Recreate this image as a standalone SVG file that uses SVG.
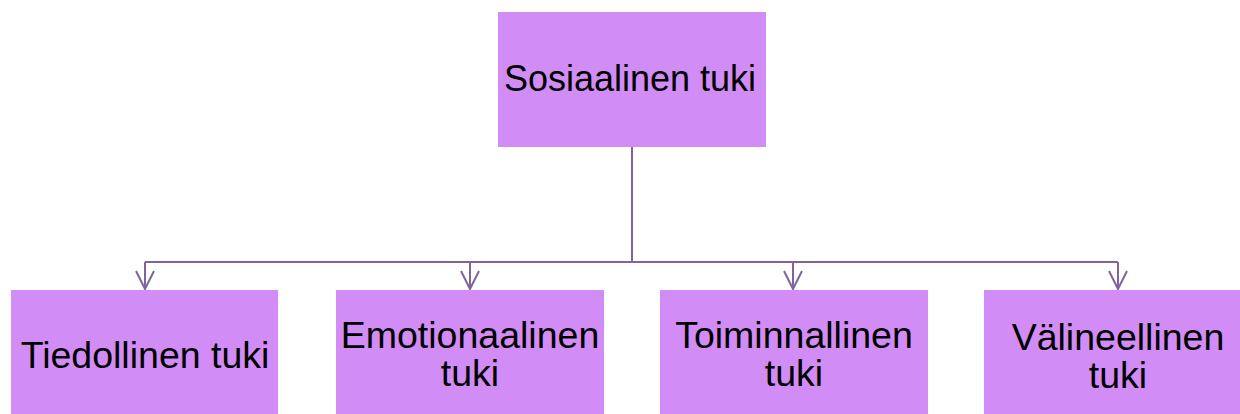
<svg xmlns="http://www.w3.org/2000/svg" width="1240" height="414" viewBox="0 0 1240 414">
<style>
.box{fill:#d28cf6;stroke:none}
.lbl{font-family:"Liberation Sans",Arial,sans-serif;font-size:37.5px;fill:#000;text-anchor:middle}
.top{font-size:36px}
.conn{fill:none;stroke:#8064a2;stroke-width:2}
</style>
<defs>
<marker id="arr" viewBox="0 0 22 22" refX="20" refY="11" markerWidth="22" markerHeight="22" markerUnits="userSpaceOnUse" orient="auto">
<path d="M2,2 L20,11 L2,20" fill="none" stroke="#8064a2" stroke-width="2"/>
</marker>
</defs>
<rect width="1240" height="414" fill="#fff"/>
<g id="connectors">
<path class="conn" d="M632,147 V262"/>
<path class="conn" d="M145,262 H1118"/>
<path class="conn" d="M145,262 V289" marker-end="url(#arr)"/>
<path class="conn" d="M470,262 V289" marker-end="url(#arr)"/>
<path class="conn" d="M793,262 V289" marker-end="url(#arr)"/>
<path class="conn" d="M1118,262 V289" marker-end="url(#arr)"/>
</g>
<g id="root">
<rect class="box" x="498" y="12" width="268" height="135"/>
<text class="lbl top" x="630" y="91">Sosiaalinen tuki</text>
</g>
<g id="tiedollinen">
<rect class="box" x="11" y="290" width="267" height="124"/>
<text class="lbl" x="145" y="368">Tiedollinen tuki</text>
</g>
<g id="emotionaalinen">
<rect class="box" x="336" y="290" width="268" height="124"/>
<text class="lbl" x="470" y="348">Emotionaalinen</text>
<text class="lbl" x="470" y="386">tuki</text>
</g>
<g id="toiminnallinen">
<rect class="box" x="660" y="290" width="268" height="124"/>
<text class="lbl" x="794" y="348">Toiminnallinen</text>
<text class="lbl" x="794" y="386">tuki</text>
</g>
<g id="valineellinen">
<rect class="box" x="984" y="290" width="268" height="124"/>
<text class="lbl" x="1118" y="350">Välineellinen</text>
<text class="lbl" x="1118" y="388">tuki</text>
</g>
</svg>
